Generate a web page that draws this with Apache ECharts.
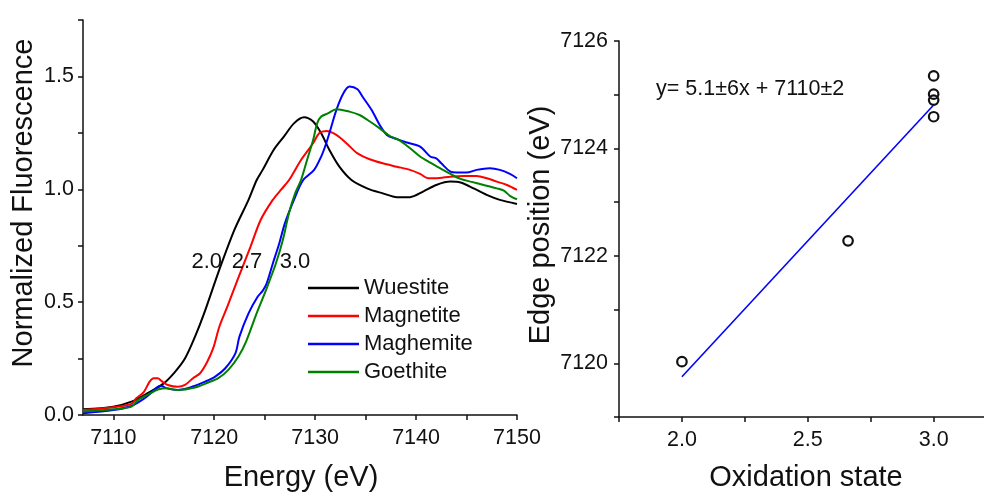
<!DOCTYPE html>
<html>
<head>
<meta charset="utf-8">
<script src="https://cdn.jsdelivr.net/npm/echarts@6/dist/echarts.min.js"></script>
<style>
html,body{margin:0;padding:0;background:#fff;}
#chart{width:984px;height:492px;}
</style>
</head>
<body>
<div id="chart"></div>
<script>
// ---------- data (left panel: XANES spectra) ----------
const seriesNames = ['Wuestite', 'Magnetite', 'Maghemite', 'Goethite'];
const seriesColors = ['#000000', '#ff0000', '#0000ff', '#008000'];

const wuestite = [
  [7107.0,0.025],[7110,0.037],[7111.8,0.059],[7113.5,0.099],[7115,0.14],[7116.1,0.19],
  [7117.1,0.25],[7118.1,0.347],[7119.0,0.45],[7120.5,0.643],[7122.0,0.82],[7123.4,0.953],
  [7124.2,1.04],[7124.8,1.086],[7125.9,1.175],[7126.9,1.233],[7127.9,1.292],[7128.9,1.319],
  [7129.8,1.30],[7130.6,1.248],[7131.4,1.175],[7132.4,1.10],[7133.6,1.041],[7135.2,1.003],
  [7136.7,0.982],[7138.1,0.965],[7139.4,0.965],[7140.7,0.990],[7142,1.019],[7143.4,1.034],
  [7144.4,1.030],[7145.7,1.004],[7147,0.975],[7148.3,0.953],[7150,0.935]
];
const magnetite = [
  [7107,0.022],[7110,0.034],[7111.8,0.049],[7112.3,0.075],[7113.0,0.10],[7113.6,0.148],
  [7114.0,0.163],[7114.4,0.163],[7114.8,0.15],[7115.4,0.133],[7116.4,0.125],[7117.1,0.133],
  [7117.9,0.163],[7118.6,0.185],[7119.3,0.235],[7119.9,0.296],[7120.5,0.39],[7121.3,0.48],
  [7122.3,0.598],[7123.6,0.746],[7124.6,0.864],[7125.8,0.953],[7126.6,0.997],[7127.4,1.04],
  [7128.6,1.13],[7129.8,1.204],[7130.4,1.248],[7131.1,1.258],[7132.1,1.241],[7133.1,1.204],
  [7134.2,1.159],[7135.4,1.133],[7136.7,1.115],[7138.1,1.100],[7139.4,1.086],[7140.4,1.068],
  [7141.2,1.049],[7142,1.049],[7143.4,1.056],[7144.7,1.059],[7146,1.059],[7147,1.049],
  [7148,1.034],[7149,1.019],[7150,0.997]
];
const maghemite = [
  [7107,0.008],[7110,0.022],[7111.8,0.04],[7113.1,0.074],[7113.9,0.104],[7114.4,0.125],
  [7114.8,0.128],[7115.3,0.118],[7116.4,0.111],[7117.8,0.125],[7119.1,0.148],[7120.1,0.17],
  [7121.1,0.207],[7122.1,0.273],[7122.5,0.347],[7123.4,0.45],[7124.3,0.524],[7124.8,0.55],
  [7125.2,0.583],[7125.8,0.67],[7126.45,0.761],[7127.0,0.849],[7127.9,0.953],[7128.8,1.04],
  [7129.9,1.086],[7130.6,1.145],[7131.1,1.204],[7131.6,1.277],[7132.1,1.351],[7132.8,1.425],
  [7133.4,1.455],[7134.2,1.443],[7134.7,1.41],[7135.6,1.351],[7136.4,1.285],[7137.1,1.241],
  [7138.1,1.222],[7139.1,1.207],[7140.4,1.189],[7141.4,1.145],[7142.0,1.137],[7142.5,1.115],
  [7143.4,1.078],[7144,1.074],[7145,1.074],[7146,1.086],[7147.3,1.093],[7148.3,1.086],
  [7149.3,1.068],[7150,1.049]
];
const goethite = [
  [7107,0.015],[7110,0.025],[7111.8,0.037],[7112.4,0.065],[7113.7,0.097],[7114.5,0.114],
  [7115.3,0.118],[7116.4,0.111],[7118.1,0.122],[7119.4,0.144],[7120.4,0.163],[7121.4,0.2],
  [7122.4,0.259],[7123.2,0.33],[7124.2,0.45],[7125.1,0.55],[7126.1,0.67],[7126.8,0.775],
  [7127.4,0.893],[7128.0,0.98],[7128.6,1.041],[7129.2,1.13],[7129.8,1.218],[7130.2,1.292],
  [7130.6,1.322],[7131.3,1.337],[7132.1,1.355],[7133.4,1.344],[7134.4,1.329],[7135.2,1.307],
  [7136.4,1.27],[7137.4,1.236],[7138.4,1.216],[7139.4,1.182],[7140.4,1.145],[7141.4,1.118],
  [7142.4,1.093],[7143.4,1.068],[7144.4,1.046],[7145.4,1.034],[7146.7,1.019],[7148,1.004],
  [7148.7,0.994],[7149.3,0.971],[7150,0.956]
];
const oxidationLabels = [[7119.26,0.678,'2.0'],[7123.25,0.678,'2.7'],[7128.0,0.678,'3.0']];

const energyTicks = [7110,7115,7120,7125,7130,7135,7140,7145,7150];
const energyLabels = [7110,7120,7130,7140,7150];
const fluorTicks = [0,0.25,0.5,0.75,1.0,1.25,1.5,1.75];
const fluorLabels = [0,0.5,1.0,1.5];

// ---------- data (right panel: edge position) ----------
const edgePoints = [[2.0,7120.03],[2.66,7122.28],[3.0,7125.35],[3.0,7125.01],[3.0,7124.90],[3.0,7124.59]];
const fitLine = [[2.0,7119.75],[3.0,7124.81]];
const fitText = [[1.897,7125.106,'y= 5.1\u00b16x + 7110\u00b12']];
const oxTicks = [1.75,2.0,2.25,2.5,2.75,3.0];
const oxLabels = [2.0,2.5,3.0];
const edgeTicks = [7119,7120,7121,7122,7123,7124,7125,7126];
const edgeLabels = [7120,7122,7124,7126];

// ---------- chart ----------
const FONT = '"Liberation Sans", Arial, sans-serif';
const INK = '#111';
const axisLineStyle = {color:INK, width:1.5};
function commonAxis(extra){
  return Object.assign({
    type:'value',
    axisLine:{show:true, onZero:false, lineStyle:axisLineStyle},
    splitLine:{show:false},
  }, extra);
}

const chart = echarts.init(document.getElementById('chart'), null, {renderer:'canvas'});
const specSeries = [wuestite, magnetite, maghemite, goethite].map((d,i)=>({
  name: seriesNames[i], type:'line', xAxisIndex:0, yAxisIndex:0,
  data:d, symbol:'none', smooth:0.3, color:seriesColors[i],
  lineStyle:{width:2, color:seriesColors[i]}, z:3
}));

chart.setOption({
  animation:false,
  backgroundColor:'#ffffff',
  textStyle:{fontFamily:FONT},
  grid:[
    {left:83, top:20, width:434, height:395},
    {left:619, top:41, width:365, height:376}
  ],
  xAxis:[
    commonAxis({gridIndex:0, min:7107, max:7150,
      axisTick:{show:true, length:5, customValues:energyTicks, lineStyle:{color:INK, width:1.5}},
      axisLabel:{customValues:energyLabels, fontSize:21.5, color:INK, margin:12, fontFamily:FONT,
        formatter:v=>String(v)}
    }),
    commonAxis({gridIndex:1, min:1.75, max:3.2,
      axisTick:{show:true, length:5, customValues:oxTicks, lineStyle:{color:INK, width:1.5}},
      axisLabel:{customValues:oxLabels, fontSize:21.5, color:INK, margin:12, fontFamily:FONT,
        formatter:v=>Number(v).toFixed(1)}
    })
  ],
  yAxis:[
    commonAxis({gridIndex:0, min:0, max:1.75,
      axisTick:{show:true, length:5, customValues:fluorTicks, lineStyle:{color:INK, width:1.5}},
      axisLabel:{customValues:fluorLabels, fontSize:21.5, color:INK, margin:9, fontFamily:FONT,
        formatter:v=>Number(v).toFixed(1)}
    }),
    commonAxis({gridIndex:1, min:7119, max:7126,
      axisTick:{show:true, length:5, customValues:edgeTicks, lineStyle:{color:INK, width:1.5}},
      axisLabel:{customValues:edgeLabels, fontSize:21.5, color:INK, margin:11, fontFamily:FONT,
        formatter:v=>String(v)}
    })
  ],
  legend:{
    data:seriesNames, orient:'vertical', left:303, top:272,
    itemWidth:51, itemHeight:2.5, itemGap:6, icon:'rect',
    textStyle:{fontSize:22, color:INK, fontFamily:FONT},
    selectedMode:false
  },
  graphic:[
    {type:'text', x:24, y:203, rotation:Math.PI/2,
      style:{text:'Normalized Fluorescence', font:'29px '+FONT, fill:INK, align:'center', verticalAlign:'middle'}},
    {type:'text', x:301, y:478,
      style:{text:'Energy (eV)', font:'29px '+FONT, fill:INK, align:'center', verticalAlign:'middle'}},
    {type:'text', x:541, y:225, rotation:Math.PI/2,
      style:{text:'Edge position (eV)', font:'29px '+FONT, fill:INK, align:'center', verticalAlign:'middle'}},
    {type:'text', x:806, y:478,
      style:{text:'Oxidation state', font:'29px '+FONT, fill:INK, align:'center', verticalAlign:'middle'}}
  ],
  series: specSeries.concat([
    {name:'labels', type:'scatter', xAxisIndex:0, yAxisIndex:0, data:oxidationLabels,
      symbolSize:0, silent:true, z:5, itemStyle:{opacity:1},
      label:{show:true, position:'inside', formatter:p=>p.value[2], fontSize:22, color:INK,
        fontFamily:FONT, textBorderWidth:0, opacity:1}},
    {name:'fit', type:'line', xAxisIndex:1, yAxisIndex:1, data:fitLine, symbol:'none',
      lineStyle:{color:'#0000ff', width:1.6}, z:2},
    {name:'edge', type:'scatter', xAxisIndex:1, yAxisIndex:1, data:edgePoints,
      symbol:'circle', symbolSize:9.5,
      itemStyle:{color:'rgba(255,255,255,0)', borderColor:INK, borderWidth:2.2, opacity:1}, z:3},
    {name:'eq', type:'scatter', xAxisIndex:1, yAxisIndex:1, data:fitText,
      symbolSize:0, silent:true, itemStyle:{opacity:1},
      label:{show:true, position:'inside', align:'left', verticalAlign:'middle',
        formatter:p=>p.value[2], fontSize:21.5, color:INK, fontFamily:FONT, textBorderWidth:0, opacity:1}}
  ])
});
</script>
</body>
</html>
